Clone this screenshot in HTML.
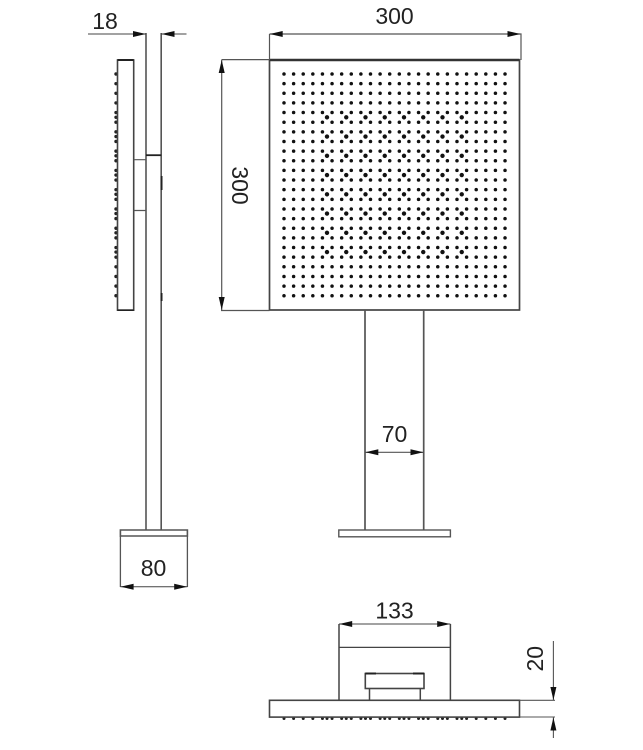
<!DOCTYPE html>
<html>
<head>
<meta charset="utf-8">
<style>
html,body{margin:0;padding:0;background:#fff;}
svg{display:block;filter:blur(0.3px);}
text{font-family:"Liberation Sans",sans-serif;font-size:23px;fill:#222;}
</style>
</head>
<body>
<svg width="643" height="750" viewBox="0 0 643 750" xmlns="http://www.w3.org/2000/svg">
<rect x="0" y="0" width="643" height="750" fill="#fff"/>

<!-- side view dots -->
<path d="M116 74V297" fill="none" stroke="#222" stroke-width="3.4" stroke-linecap="round" stroke-dasharray="0 9.64"/>
<path d="M116 117.3V253" fill="none" stroke="#222" stroke-width="3.4" stroke-linecap="round" stroke-dasharray="0 19.25"/>

<!-- side view -->
<g fill="none" stroke="#555" stroke-width="1.6">
<rect x="117.5" y="60" width="16.2" height="250.2" fill="#fff" stroke="#444"/>
<path d="M146 33V530M161.2 33V530"/>
<path d="M133.7 159.7H146M133.7 210.5H146" stroke-width="1.2"/>
<path d="M146 155.2H161.2" stroke="#222" stroke-width="1.8"/>
<path d="M161.6 176V190M161.6 293V301" stroke="#222" stroke-width="1.8"/>
<path d="M120.4 530H187.4V536H120.4Z"/>
<path d="M120.4 536V587M187.4 536V587" stroke-width="1.3"/>
<path d="M88 34H146M161.2 34H186.5M120.4 586.7H187.4" stroke="#444" stroke-width="1"/>
</g>
<path d="M117.5 60H133.7" stroke="#222" stroke-width="2" fill="none"/>
<path d="M117.5 310.2H133.7" stroke="#222" stroke-width="1.6" fill="none"/>

<!-- front view dots -->
<path fill="none" stroke="#111" stroke-width="3.5" stroke-linecap="round" stroke-dasharray="0 9.61" d="M284 74H506M284 83.64H506M284 93.28H506M284 102.92H506M284 112.56H506M284 122.2H506M284 131.84H506M284 141.48H506M284 151.12H506M284 160.76H506M284 170.4H506M284 180.04H506M284 189.68H506M284 199.32H506M284 208.96H506M284 218.6H506M284 228.24H506M284 237.88H506M284 247.52H506M284 257.16H506M284 266.8H506M284 276.44H506M284 286.08H506M284 295.72H506"/>
<path fill="none" stroke="#111" stroke-width="4.4" stroke-linecap="round" stroke-dasharray="0 19.25" d="M327 117.3H463M327 136.55H463M327 155.8H463M327 175.05H463M327 194.3H463M327 213.55H463M327 232.8H463M327 252.05H463"/>

<!-- front view -->
<g fill="none" stroke="#444" stroke-width="1.7">
<rect x="269.5" y="60" width="250" height="250"/>
<path d="M365 310V530M423.7 310V530" stroke="#555"/>
<rect x="338.8" y="530" width="111.6" height="6.8" stroke="#555" stroke-width="1.4"/>
</g>
<path d="M269.5 60H519.5" stroke="#333" stroke-width="2.4" fill="none"/>

<!-- dimension lines -->
<g fill="none" stroke="#555" stroke-width="1.2">
<path d="M269.5 34H521V60M269.5 34V60"/>
<path d="M221.7 59.6H269.5M221.7 59.6V310.5M221 310.5H269.5"/>
<path d="M365 452.3H423.7"/>
</g>

<!-- bottom view -->
<path d="M284 718.5H506" fill="none" stroke="#222" stroke-width="3" stroke-linecap="round" stroke-dasharray="0 9.61"/>
<path d="M327 718.5H463" fill="none" stroke="#222" stroke-width="3" stroke-linecap="round" stroke-dasharray="0 19.25"/>
<g fill="none" stroke="#444" stroke-width="1.5">
<rect x="269.5" y="700.3" width="250" height="16.8" fill="#fff" stroke-width="1.6"/>
<path d="M339 624V700.3M450.4 624V700.3"/>
<path d="M339 647.4H450.4" stroke-width="1.2"/>
<rect x="365.3" y="673.5" width="58.7" height="15" stroke-width="1.6"/>
<path d="M369.5 688.5V700.3M420.3 688.5V700.3"/>
<path d="M339 624H450.4" stroke-width="1.1"/>
<path d="M519.5 700.3H555M519.5 717H555M553.4 641V700.3M553.4 717V738" stroke-width="1.1" stroke="#555"/>
</g>
<path d="M365.3 673.5H376M413 673.5H424" stroke="#222" stroke-width="2" fill="none"/>

<!-- arrowheads -->
<g fill="#111">
<path d="M146 34L133 31V37Z"/>
<path d="M161.5 34L174.5 31V37Z"/>
<path d="M269.7 34L282.7 31V37Z"/>
<path d="M520.5 34L507.5 31V37Z"/>
<path d="M221.7 60L218.7 73H224.7Z"/>
<path d="M221.7 310L218.7 297H224.7Z"/>
<path d="M365.3 452.3L378.3 449.3V455.3Z"/>
<path d="M423.5 452.3L410.5 449.3V455.3Z"/>
<path d="M120.6 586.7L133.6 583.7V589.7Z"/>
<path d="M187.2 586.7L174.2 583.7V589.7Z"/>
<path d="M339.2 624L352.2 621V627Z"/>
<path d="M450.2 624L437.2 621V627Z"/>
<path d="M553.4 700L550.4 687H556.4Z"/>
<path d="M553.4 717.5L550.4 730.5H556.4Z"/>
</g>

<!-- labels -->
<text x="394.5" y="24" text-anchor="middle">300</text>
<text x="105" y="29" text-anchor="middle">18</text>
<text x="394.5" y="442" text-anchor="middle">70</text>
<text x="153.5" y="576" text-anchor="middle">80</text>
<text x="394.5" y="618.5" text-anchor="middle">133</text>
<text transform="translate(232 185.5) rotate(90)" text-anchor="middle">300</text>
<text transform="translate(543 658.7) rotate(-90)" text-anchor="middle">20</text>
</svg>
</body>
</html>
